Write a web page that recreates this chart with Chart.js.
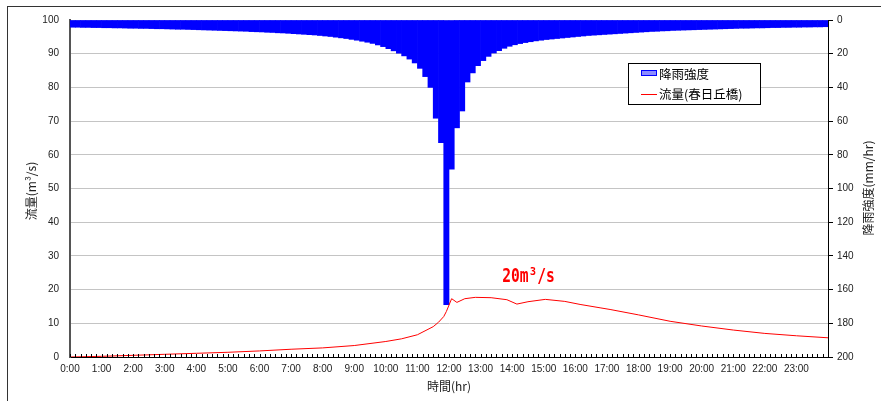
<!DOCTYPE html>
<html>
<head>
<meta charset="utf-8">
<script src="https://cdn.jsdelivr.net/npm/chart.js@4.4.1/dist/chart.umd.min.js"></script>
<style>
  html, body { margin: 0; padding: 0; background: #fff; }
  canvas { display: block; }
</style>
</head>
<body>
<canvas id="chart" width="881" height="401"></canvas>
<script>
// 降雨強度 (mm/hr), 10分ごと 0:00〜24:00
const rainIntensity = [
  4.3, 4.3, 4.4, 4.4, 4.5, 4.5, 4.6, 4.6, 4.7, 4.7, 4.8, 4.9,
  4.9, 5.0, 5.0, 5.1, 5.2, 5.2, 5.3, 5.4, 5.5, 5.5, 5.6, 5.7,
  5.8, 5.9, 6.0, 6.1, 6.2, 6.3, 6.4, 6.5, 6.6, 6.7, 6.9, 7.0,
  7.1, 7.3, 7.4, 7.6, 7.7, 7.9, 8.1, 8.3, 8.5, 8.7, 8.9, 9.2,
  9.5, 9.8, 10.2, 10.6, 11.0, 11.5, 12.0, 12.6, 13.2, 13.9, 14.8, 15.8,
  17.0, 18.3, 19.7, 21.3, 23.2, 25.5, 28.7, 33.6, 40.0, 58.3, 72.8, 169,
  88.6, 64, 54, 36.8, 31.4, 27.1, 24.1, 21.6, 19.6, 18.2, 16.8, 15.6,
  14.7, 14.0, 13.4, 12.9, 12.4, 12.0, 11.6, 11.3, 11.0, 10.7, 10.4, 10.1,
  9.8, 9.5, 9.2, 9.0, 8.8, 8.6, 8.4, 8.2, 8.0, 7.8, 7.6, 7.4,
  7.2, 7.0, 6.8, 6.7, 6.5, 6.4, 6.2, 6.1, 6.0, 5.9, 5.8, 5.7,
  5.6, 5.5, 5.4, 5.3, 5.2, 5.1, 5.0, 4.9, 4.9, 4.8, 4.7, 4.7,
  4.6, 4.5, 4.5, 4.4, 4.4, 4.3, 4.3, 4.2, 4.2, 4.1, 4.1, 4.0
];

// 流量(春日丘橋) m3/s, 時刻は分
const flowTimes = [
  0, 60, 120, 180, 240, 300, 360, 420, 480, 540, 600, 630, 660, 690, 700,
  710, 715, 725, 735, 750, 770, 800, 830, 849, 870, 903, 940, 969, 1007,
  1026, 1080, 1140, 1200, 1260, 1320, 1380, 1440
];
const flowValues = [
  0, 0.2, 0.5, 0.8, 1.1, 1.4, 1.8, 2.3, 2.7, 3.4, 4.6, 5.4, 6.6, 9.0, 10.3,
  12.0, 13.5, 17.3, 16.2, 17.3, 17.7, 17.6, 17.0, 15.7, 16.4, 17.1, 16.5, 15.6, 14.6,
  14.1, 12.5, 10.6, 9.2, 8.0, 7.0, 6.3, 5.7
];

const hourLabels = [
  '0:00', '1:00', '2:00', '3:00', '4:00', '5:00', '6:00', '7:00',
  '8:00', '9:00', '10:00', '11:00', '12:00', '13:00', '14:00', '15:00',
  '16:00', '17:00', '18:00', '19:00', '20:00', '21:00', '22:00', '23:00'
];

const peakNote = { text: '20m³/s', time: 821, flow: 22.3 };

const tickFont = { family: 'Liberation Sans', size: 10 };
const jpFont = '12px "Noto Sans CJK JP"';

const decor = {
  id: 'decor',
  afterDraw(chart) {
    const { ctx, chartArea, scales } = chart;
    const xs = scales.x;
    ctx.save();

    // 内向きの目盛り (10分)
    ctx.strokeStyle = '#000';
    ctx.lineWidth = 1;
    ctx.beginPath();
    for (let t = 0; t <= 1440; t += 10) {
      const px = Math.round(xs.getPixelForValue(t)) + 0.5;
      ctx.moveTo(px, chartArea.bottom);
      ctx.lineTo(px, chartArea.bottom - 3);
    }
    ctx.stroke();

    // 軸タイトル
    ctx.fillStyle = '#222';
    ctx.font = jpFont;
    ctx.textAlign = 'center';
    ctx.textBaseline = 'middle';
    ctx.fillText('時間(hr)', (chartArea.left + chartArea.right) / 2, 386);

    ctx.save();
    ctx.translate(31, 191);
    ctx.rotate(-Math.PI / 2);
    ctx.fillText('流量(m³/s)', 0, 0);
    ctx.restore();

    ctx.save();
    ctx.translate(868, 188);
    ctx.rotate(-Math.PI / 2);
    ctx.fillText('降雨強度(mm/hr)', 0, 0);
    ctx.restore();

    // 凡例
    ctx.fillStyle = '#fff';
    ctx.fillRect(628, 63, 132, 41);
    ctx.strokeStyle = '#000';
    ctx.strokeRect(628.5, 63.5, 132, 41);
    ctx.fillStyle = '#8c8cff';
    ctx.fillRect(641, 70, 16, 6);
    ctx.strokeStyle = '#0000ff';
    ctx.strokeRect(641.5, 70.5, 15, 5);
    ctx.strokeStyle = '#ff0000';
    ctx.beginPath();
    ctx.moveTo(641, 94.5);
    ctx.lineTo(657, 94.5);
    ctx.stroke();
    ctx.fillStyle = '#000';
    ctx.font = '12.5px "Noto Sans CJK JP"';
    ctx.textAlign = 'left';
    ctx.fillText('降雨強度', 659, 74);
    ctx.fillText('流量(春日丘橋)', 659, 94);

    // ピーク流量の注記
    ctx.save();
    ctx.translate(xs.getPixelForValue(peakNote.time), scales.y.getPixelForValue(peakNote.flow));
    ctx.scale(0.73, 1);
    ctx.fillStyle = '#ff0000';
    ctx.font = 'bold 20px "DejaVu Sans Mono"';
    ctx.textBaseline = 'alphabetic';
    ctx.fillText(peakNote.text, 0, 0);
    ctx.restore();

    // 外枠
    ctx.strokeStyle = '#333';
    ctx.lineWidth = 1;
    ctx.strokeRect(7.5, 6.5, 1000, 1000);

    ctx.restore();
  }
};

new Chart(document.getElementById('chart'), {
  type: 'bar',
  data: {
    datasets: [
      {
        type: 'line',
        label: '流量(春日丘橋)',
        data: flowTimes.map((t, i) => ({ x: t, y: flowValues[i] })),
        yAxisID: 'y',
        borderColor: '#ff0000',
        borderWidth: 1,
        pointRadius: 0,
        tension: 0,
        order: 1
      },
      {
        type: 'bar',
        label: '降雨強度',
        data: rainIntensity.map((v, i) => ({ x: i * 10 + 5, y: v })),
        yAxisID: 'y1',
        backgroundColor: '#0000ff',
        borderWidth: 0,
        barPercentage: 1,
        categoryPercentage: 1,
        order: 2
      }
    ]
  },
  options: {
    responsive: false,
    animation: false,
    layout: { padding: { top: 20, left: 0, right: 0, bottom: 0 } },
    scales: {
      x: {
        type: 'linear',
        min: 0,
        max: 1440,
        offset: false,
        afterFit: s => { s.height = 44; },
        grid: { display: false, drawTicks: false },
        border: { display: true, color: '#000', width: 1 },
        ticks: {
          stepSize: 60,
          autoSkip: false,
          maxRotation: 0,
          padding: 6,
          color: '#222',
          font: tickFont,
          callback: v => hourLabels[v / 60] ?? ''
        }
      },
      y: {
        position: 'left',
        min: 0,
        max: 100,
        afterFit: s => { s.width = 70; },
        grid: { color: '#c4c4c4', lineWidth: 1, drawTicks: false },
        border: { display: true, color: '#555', width: 2 },
        ticks: { stepSize: 10, padding: 11, color: '#222', font: tickFont }
      },
      y1: {
        position: 'right',
        reverse: true,
        min: 0,
        max: 200,
        afterFit: s => { s.width = 53; },
        grid: { drawOnChartArea: false, color: '#000', tickLength: 5 },
        border: { display: true, color: '#000', width: 1 },
        ticks: { stepSize: 20, padding: 4, color: '#222', font: tickFont }
      }
    },
    plugins: {
      legend: { display: false },
      tooltip: { enabled: false }
    }
  },
  plugins: [decor]
});
</script>
</body>
</html>
